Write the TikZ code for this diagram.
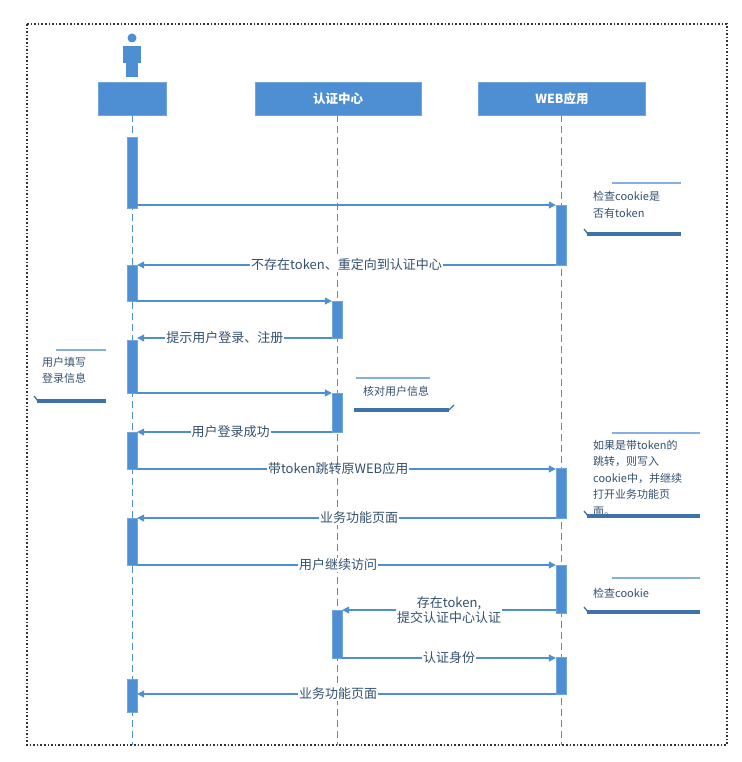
\documentclass[tikz,border=0pt]{standalone}
\usepackage{fontspec}
\setmainfont{Noto Sans CJK SC}
\usetikzlibrary{arrows.meta}
\definecolor{bl}{HTML}{4E8ED2}
\definecolor{tx}{HTML}{34506E}
\begin{document}
\begin{tikzpicture}[x=1pt,y=-1pt,
 head/.style={fill=bl,draw=bl!80,text=white,font=\bfseries\fontsize{12.5}{14}\selectfont,inner sep=0},
 life/.style={bl,dashed,dash pattern=on 7pt off 4pt,line width=0.9pt},
 act/.style={fill=bl,draw=bl!80,minimum width=10pt,inner sep=0},
 msg/.style={bl,line width=1.1pt,-{Triangle[length=7pt,width=7pt]}},
 lab/.style={fill=white,text=tx,font=\fontsize{13}{15}\selectfont,inner sep=1pt,align=center},
 note/.style={text=tx,font=\fontsize{11}{16.5}\selectfont,align=left,inner sep=0},
 nl/.style={draw=bl!70,line width=1.3pt},
 nb/.style={draw=bl!80!black,line width=3.5pt}]
\useasboundingbox (0,0) rectangle (741,762);
\draw[dotted,line width=1.6pt,black!80] (27,24) rectangle (727,745);
% person
\fill[bl] (132,38) circle (4.5pt);
\fill[bl] (123,46) rectangle (141,63);
\fill[bl] (126,62) rectangle (138,77);
% heads
\node[head,minimum width=68pt,minimum height=33pt] (hu) at (132,98.5) {};
\node[head,minimum width=166pt,minimum height=33pt] (ha) at (338,98.5) {认证中心};
\node[head,minimum width=167pt,minimum height=33pt] (hw) at (562,98.5) {WEB应用};
\coordinate (eu) at (132,745); \coordinate (ea) at (337,745); \coordinate (ew) at (561,745);
\draw[life] (hu.south) -- (eu);
\draw[life] (ha.south) ++(-1,0) -- (ea);
\draw[life] (hw.south) ++(-1,0) -- (ew);
% activations
\foreach \n/\x/\a/\b in {u1/132/137/208,u2/132/265/301,u3/132/340/393,u4/132/432/469,u5/132/518/565,u6/132/679/712,
 w1/561/205/265,w2/561/468/518,w3/561/565/613,w4/561/657/694,
 a1/337/301/338,a2/337/393/432,a3/337/610/658}
 \node[act,minimum height={(\b-\a)*1pt}] (\n) at (\x,{(\a+\b)/2}) {};
% messages
\draw[msg] (u1.east |- 0,205) -- (w1.west |- 0,205);
\draw[msg] (w1.west |- 0,265) -- node[lab]{不存在token、重定向到认证中心} (u2.east |- 0,265);
\draw[msg] (u2.east |- 0,301) -- (a1.west |- 0,301);
\draw[msg] (a1.west |- 0,338) -- node[lab,pos=0.55]{提示用户登录、注册} (u3.east |- 0,338);
\draw[msg] (u3.east |- 0,393) -- (a2.west |- 0,393);
\draw[msg] (a2.west |- 0,432) -- node[lab,pos=0.52]{用户登录成功} (u4.east |- 0,432);
\draw[msg] (u4.east |- 0,469) -- node[lab,pos=0.48]{带token跳转原WEB应用} (w2.west |- 0,469);
\draw[msg] (w2.west |- 0,518) -- node[lab,pos=0.47]{业务功能页面} (u5.east |- 0,518);
\draw[msg] (u5.east |- 0,565) -- node[lab,pos=0.48]{用户继续访问} (w3.west |- 0,565);
\draw[msg] (w3.west |- 0,610) -- node[lab,pos=0.5]{存在token,\\提交认证中心认证} (a3.east |- 0,610);
\draw[msg] (a3.east |- 0,658) -- node[lab]{认证身份} (w4.west |- 0,658);
\draw[msg] (w4.west |- 0,694) -- node[lab,pos=0.52]{业务功能页面} (u6.east |- 0,694);
% notes
\node[note,anchor=north west] (n1) at (593,191) {检查cookie是\\否有token};
\draw[nl] (612,183) -- (681,183);
\draw[nb] (587,234) -- (681,234); \draw[nb,line width=1.3pt] (584,229) -- (588,234);
\node[note,anchor=north west] (n2) at (42,357) {用户填写\\登录信息};
\draw[nl] (56,350) -- (106,350);
\draw[nb] (37,401) -- (106,401); \draw[nb,line width=1.3pt] (34,396) -- (38,401);
\node[note,anchor=north west] (n3) at (363,386) {核对用户信息};
\draw[nl] (356,378) -- (430,378);
\draw[nb] (354,410) -- (449,410); \draw[nb,line width=1.3pt] (449,410) -- (454,405);
\node[note,anchor=north west] (n4) at (593,440) {如果是带token的\\跳转，则写入\\cookie中，并继续\\打开业务功能页\\面。};
\draw[nl] (612,433) -- (700,433);
\draw[nb] (587,516) -- (700,516); \draw[nb,line width=1.3pt] (584,511) -- (588,516);
\node[note,anchor=north west] (n5) at (593,588) {检查cookie};
\draw[nl] (612,578) -- (700,578);
\draw[nb] (587,612) -- (700,612); \draw[nb,line width=1.3pt] (584,607) -- (588,612);
\end{tikzpicture}
\end{document}
